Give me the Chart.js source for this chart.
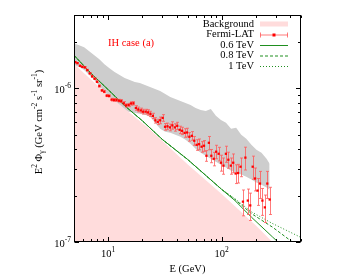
<!DOCTYPE html>
<html>
<head>
<meta charset="utf-8">
<script src="https://cdn.jsdelivr.net/npm/chart.js@4.4.0/dist/chart.umd.min.js"></script>
<style>
  html, body { margin: 0; padding: 0; background: #fff; }
  canvas { display: block; }
</style>
</head>
<body>
<canvas id="chart" width="354" height="278"></canvas>
<script>
// Fermi-LAT points (GeV, GeV cm^-2 s^-1 sr^-1)
const energy = [
  5.11, 5.36, 5.64, 5.92, 6.22, 6.54, 6.87, 7.21, 7.58, 7.96,
  8.36, 8.79, 9.23, 9.70, 10.19, 10.71, 11.25, 11.82, 12.42, 13.05,
  13.70, 14.40, 15.12, 15.89, 16.70, 17.54, 18.43, 19.36, 20.34, 21.37,
  22.45, 23.59, 24.78, 26.03, 27.35, 28.73, 30.19, 31.71, 33.32, 35.01,
  36.78, 38.64, 40.60, 42.65, 44.81, 47.08, 49.46, 51.96, 54.59, 57.36,
  60.26, 63.31, 66.52, 69.88, 73.42, 77.14, 81.04, 85.14, 89.45, 93.98,
  98.72, 103.7, 109.0, 114.5, 120.3, 126.4, 132.8, 139.5, 146.6, 154.0,
  161.8, 169.9, 178.6, 187.6, 197.1, 207.0, 217.5, 228.5, 240.1, 252.3,
  265.0
];
const flux = [
  1.480e-6, 1.459e-6, 1.401e-6, 1.380e-6, 1.368e-6, 1.314e-6, 1.251e-6, 1.196e-6, 1.154e-6, 1.103e-6,
  1.035e-6, 9.70e-7, 9.51e-7, 8.96e-7, 8.92e-7, 8.44e-7, 8.40e-7, 8.40e-7, 8.31e-7, 8.27e-7,
  7.99e-7, 7.74e-7, 7.79e-7, 7.97e-7, 7.99e-7, 7.45e-7, 7.29e-7, 7.18e-7, 7.05e-7, 7.05e-7,
  6.97e-7, 6.82e-7, 6.62e-7, 6.19e-7, 6.05e-7, 6.19e-7, 6.42e-7, 5.62e-7, 5.66e-7, 5.57e-7,
  5.74e-7, 5.57e-7, 5.70e-7, 5.37e-7, 5.29e-7, 5.13e-7, 5.16e-7, 4.84e-7, 4.91e-7, 4.56e-7,
  4.29e-7, 4.33e-7, 4.17e-7, 4.23e-7, 3.64e-7, 4.42e-7, 3.64e-7, 3.48e-7, 3.87e-7, 3.75e-7,
  3.28e-7, 3.14e-7, 3.75e-7, 3.43e-7, 3.14e-7, 3.28e-7, 2.79e-7, 2.81e-7, 3.09e-7, 1.83e-7,
  3.54e-7, 1.86e-7, 1.73e-7, 3.09e-7, 2.59e-7, 2.16e-7, 2.40e-7, 1.86e-7, 1.68e-7, 2.40e-7,
  1.89e-7
];
const fluxErr = [
  1.5e-8, 1.5e-8, 1.4e-8, 1.4e-8, 1.4e-8, 1.6e-8, 1.5e-8, 1.4e-8, 1.4e-8, 1.3e-8,
  1.6e-8, 1.5e-8, 1.4e-8, 1.3e-8, 1.3e-8, 1.7e-8, 1.7e-8, 1.7e-8, 1.7e-8, 1.7e-8,
  2.0e-8, 1.9e-8, 1.9e-8, 2.0e-8, 2.0e-8, 2.6e-8, 2.6e-8, 2.5e-8, 2.5e-8, 2.5e-8,
  2.8e-8, 2.7e-8, 2.6e-8, 2.5e-8, 2.4e-8, 3.1e-8, 3.2e-8, 2.8e-8, 2.8e-8, 2.8e-8,
  3.2e-8, 3.1e-8, 3.1e-8, 3.0e-8, 2.9e-8, 3.3e-8, 3.4e-8, 3.1e-8, 3.2e-8, 3.0e-8,
  3.4e-8, 3.5e-8, 3.3e-8, 3.4e-8, 2.9e-8, 4.4e-8, 3.6e-8, 3.5e-8, 3.9e-8, 3.8e-8,
  3.9e-8, 3.8e-8, 4.5e-8, 4.1e-8, 3.8e-8, 4.6e-8, 3.9e-8, 3.9e-8, 4.3e-8, 3.5e-8,
  6.0e-8, 3.5e-8, 3.5e-8, 5.3e-8, 4.4e-8, 4.3e-8, 4.8e-8, 3.7e-8, 3.4e-8, 4.8e-8,
  3.8e-8
];

// grey uncertainty band
const bandEnergy = [
  5.0, 5.54, 6.14, 6.81, 7.55, 8.36, 9.27, 10.27, 11.39, 12.62,
  13.98, 15.50, 17.17, 19.03, 21.09, 23.38, 25.91, 28.71, 31.83, 35.27,
  39.08, 43.31, 48.01, 53.20, 58.96, 65.35, 72.42, 80.26, 88.94, 98.58,
  109.2, 121.1, 134.2, 148.7, 164.8, 182.7, 202.5, 224.3, 248.6, 264.5
];
const bandHigh = [
  1.965e-6, 1.907e-6, 1.851e-6, 1.744e-6, 1.643e-6, 1.548e-6, 1.437e-6, 1.353e-6, 1.275e-6, 1.219e-6,
  1.166e-6, 1.132e-6, 1.099e-6, 1.082e-6, 1.050e-6, 1.020e-6, 9.90e-7, 9.61e-7, 9.19e-7, 8.78e-7,
  8.52e-7, 8.27e-7, 8.03e-7, 7.79e-7, 7.45e-7, 7.24e-7, 7.13e-7, 7.34e-7, 6.62e-7, 6.23e-7,
  5.96e-7, 5.45e-7, 5.53e-7, 4.98e-7, 4.69e-7, 4.29e-7, 3.98e-7, 3.81e-7, 3.48e-7, 3.23e-7
];
const bandLow = [
  1.416e-6, 1.374e-6, 1.314e-6, 1.219e-6, 1.132e-6, 1.035e-6, 9.61e-7, 8.65e-7, 7.79e-7, 7.34e-7,
  7.13e-7, 7.02e-7, 6.92e-7, 6.82e-7, 6.72e-7, 6.52e-7, 5.96e-7, 5.45e-7, 5.21e-7, 5.13e-7,
  4.98e-7, 4.84e-7, 4.63e-7, 4.36e-7, 4.05e-7, 3.81e-7, 3.64e-7, 3.48e-7, 3.33e-7, 3.18e-7,
  3.05e-7, 2.91e-7, 2.83e-7, 2.75e-7, 2.66e-7, 2.55e-7, 2.44e-7, 2.36e-7, 2.26e-7, 2.19e-7
];

// background and DM model curves
const bkgEnergy = [5, 10, 23, 50, 100, 200, 280, 350];
const bkgFlux = [1.44e-6, 9.0e-7, 5.45e-7, 3.2e-7, 2.05e-7, 1.28e-7, 1.0e-7, 8.5e-8];

const modelEnergy = [5, 7, 10, 14, 20, 30, 50, 100, 130, 183, 280, 420, 500];
const flux06 = [1.64e-6, 1.26e-6, 9.8e-7, 7.7e-7, 6.15e-7, 4.65e-7, 3.45e-7, 2.2e-7, 1.87e-7, 1.45e-7, 1.08e-7, 8.2e-8, 7.4e-8];
const flux08 = [1.64e-6, 1.26e-6, 9.8e-7, 7.7e-7, 6.15e-7, 4.65e-7, 3.45e-7, 2.2e-7, 1.9e-7, 1.53e-7, 1.25e-7, 1.0e-7, 9.2e-8];
const flux10 = [1.64e-6, 1.26e-6, 9.8e-7, 7.7e-7, 6.15e-7, 4.65e-7, 3.45e-7, 2.2e-7, 1.92e-7, 1.57e-7, 1.32e-7, 1.14e-7, 1.07e-7];

const xMajor = [10, 100];
const xMinor = [5, 6, 7, 8, 9, 20, 30, 40, 50, 60, 70, 80, 90, 200, 300, 400, 500];
const yMajor = [1e-7, 1e-6];
const yMinor = [2e-7, 3e-7, 4e-7, 5e-7, 6e-7, 7e-7, 8e-7, 9e-7, 2e-6, 3e-6];
const xTickLabels = [['10', '1'], ['10', '2']];
const yTickLabels = [['10', '-7'], ['10', '-6']];

const FONT = '"Liberation Serif", "Times New Roman", serif';
const RED = '#ff0000';
const GREEN = '#1f8f1f';

function pts(xs, ys) {
  return xs.map((x, i) => ({ x: x, y: ys[i] }));
}

// parts: [text, kind] kind 0 normal, 1 superscript, 2 subscript
function richWidth(ctx, parts, size) {
  let w = 0;
  parts.forEach(p => {
    ctx.font = (p[1] ? size * 0.72 : size) + 'px ' + FONT;
    w += ctx.measureText(p[0]).width;
  });
  return w;
}
function richText(ctx, parts, x, y, size) {
  parts.forEach(p => {
    const s = p[1] ? size * 0.72 : size;
    const dy = p[1] === 1 ? -size * 0.38 : (p[1] === 2 ? size * 0.28 : 0);
    ctx.font = s + 'px ' + FONT;
    ctx.fillText(p[0], x, y + dy);
    x += ctx.measureText(p[0]).width;
  });
}

const decor = {
  id: 'decor',
  beforeDatasetDraw(chart, args) {
    if (args.index !== 0) return;
    const ctx = chart.ctx, xs = chart.scales.x, ys = chart.scales.y;
    const a = chart.chartArea;
    ctx.save();
    ctx.beginPath();
    ctx.rect(a.left, a.top, a.right - a.left, a.bottom - a.top);
    ctx.clip();
    ctx.strokeStyle = 'rgba(255,90,90,0.8)';
    ctx.lineWidth = 1;
    energy.forEach((e, i) => {
      const px = Math.round(xs.getPixelForValue(e)) + 0.5;
      const top = ys.getPixelForValue(flux[i] + fluxErr[i]);
      const bot = ys.getPixelForValue(flux[i] - fluxErr[i]);
      ctx.beginPath();
      ctx.moveTo(px, top); ctx.lineTo(px, bot);
      ctx.moveTo(px - 1.5, top); ctx.lineTo(px + 1.5, top);
      ctx.moveTo(px - 1.5, bot); ctx.lineTo(px + 1.5, bot);
      ctx.stroke();
    });
    ctx.restore();
  },
  afterDraw(chart) {
    const ctx = chart.ctx, xs = chart.scales.x, ys = chart.scales.y;
    const a = chart.chartArea;
    const L = a.left + 0.5, R = a.right - 0.5, T = a.top + 0.5, B = a.bottom - 0.5;
    ctx.save();
    ctx.strokeStyle = '#000';
    ctx.lineWidth = 1;

    // inward ticks, mirrored
    ctx.beginPath();
    const xt = (v, len) => {
      const p = Math.round(xs.getPixelForValue(v)) + 0.5;
      ctx.moveTo(p, B); ctx.lineTo(p, B - len);
      ctx.moveTo(p, T); ctx.lineTo(p, T + len);
    };
    const yt = (v, len) => {
      const p = Math.round(ys.getPixelForValue(v)) + 0.5;
      ctx.moveTo(L, p); ctx.lineTo(L + len, p);
      ctx.moveTo(R, p); ctx.lineTo(R - len, p);
    };
    xMinor.forEach(v => xt(v, 2.5));
    xMajor.forEach(v => xt(v, 4.5));
    yMinor.forEach(v => yt(v, 2.5));
    yMajor.forEach(v => yt(v, 4.5));
    ctx.stroke();
    ctx.strokeRect(L, T, R - L, B - T);

    // tick labels
    ctx.fillStyle = '#000';
    ctx.textBaseline = 'middle';
    ctx.textAlign = 'left';
    const size = 10.5;
    xMajor.forEach((v, i) => {
      const parts = [[xTickLabels[i][0], 0], [xTickLabels[i][1], 1]];
      const w = richWidth(ctx, parts, size);
      richText(ctx, parts, xs.getPixelForValue(v) - w / 2, a.bottom + 12, size);
    });
    yMajor.forEach((v, i) => {
      const parts = [[yTickLabels[i][0], 0], [yTickLabels[i][1], 1]];
      const w = richWidth(ctx, parts, size);
      richText(ctx, parts, a.left - 3 - w, ys.getPixelForValue(v) + 2, size);
    });

    // axis titles
    ctx.font = size + 'px ' + FONT;
    ctx.textAlign = 'center';
    ctx.fillText('E (GeV)', (a.left + a.right) / 2, 269);
    ctx.textAlign = 'left';
    const yTitle = [['E', 0], ['2', 1], [' \u03A6', 0], ['\u03B3', 2], [' (GeV cm', 0], ['-2', 1],
                    [' s', 0], ['-1', 1], [' sr', 0], ['-1', 1], [')', 0]];
    const tw = richWidth(ctx, yTitle, size);
    ctx.translate(39, 122);
    ctx.rotate(-Math.PI / 2);
    richText(ctx, yTitle, -tw / 2, 0, size);
    ctx.setTransform(1, 0, 0, 1, 0, 0);

    // annotation
    ctx.fillStyle = RED;
    ctx.font = size + 'px ' + FONT;
    ctx.fillText('IH case (a)', 108, 43);

    // legend
    ctx.fillStyle = '#000';
    ctx.textAlign = 'right';
    const rows = ['Background', 'Fermi-LAT', '0.6 TeV', '0.8 TeV', '1 TeV'];
    const rowY = [24, 34.5, 45, 55.5, 66];
    rows.forEach((t, i) => ctx.fillText(t, 254, rowY[i]));
    const s0 = 260, s1 = 288;
    ctx.fillStyle = '#ffdcdc';
    ctx.fillRect(s0, rowY[0] - 2.5, s1 - s0, 5);
    ctx.strokeStyle = 'rgba(255,90,90,0.8)';
    ctx.beginPath();
    ctx.moveTo(s0, rowY[1] + 0.5); ctx.lineTo(s1, rowY[1] + 0.5);
    ctx.moveTo(s0 + 0.5, rowY[1] - 2); ctx.lineTo(s0 + 0.5, rowY[1] + 3);
    ctx.moveTo(s1 - 0.5, rowY[1] - 2); ctx.lineTo(s1 - 0.5, rowY[1] + 3);
    ctx.stroke();
    ctx.fillStyle = RED;
    ctx.fillRect(272.5, rowY[1] - 1, 3, 3);
    const dash = [[], [3, 2], [1, 2]];
    [2, 3, 4].forEach((r, k) => {
      ctx.strokeStyle = GREEN;
      ctx.setLineDash(dash[k]);
      ctx.beginPath();
      ctx.moveTo(s0, rowY[r] + 0.5); ctx.lineTo(s1, rowY[r] + 0.5);
      ctx.stroke();
    });
    ctx.setLineDash([]);
    ctx.restore();
  }
};

const line = (label, ys, dash, order) => ({
  label: label, data: pts(modelEnergy, ys), showLine: true, borderColor: GREEN,
  borderWidth: 1, borderDash: dash, pointRadius: 0, fill: false, tension: 0, order: order
});

new Chart(document.getElementById('chart').getContext('2d'), {
  type: 'scatter',
  data: {
    datasets: [
      { label: 'Fermi-LAT', data: pts(energy, flux), pointStyle: 'rect', pointRadius: 1.6,
        pointBackgroundColor: RED, pointBorderWidth: 0, showLine: false, order: 0 },
      line('0.6 TeV', flux06, [], 1),
      line('0.8 TeV', flux08, [3, 2], 2),
      line('1 TeV', flux10, [1, 2], 3),
      { label: 'Background', data: pts(bkgEnergy, bkgFlux), showLine: true, borderWidth: 0,
        pointRadius: 0, fill: 'start', backgroundColor: '#ffdcdc', tension: 0, order: 4 },
      { label: 'band low', data: pts(bandEnergy, bandLow), showLine: true, borderWidth: 0,
        pointRadius: 0, fill: false, tension: 0, order: 6 },
      { label: 'band high', data: pts(bandEnergy, bandHigh), showLine: true, borderWidth: 0,
        pointRadius: 0, fill: 5, backgroundColor: '#cdcdcd', tension: 0, order: 5 }
    ]
  },
  options: {
    responsive: false,
    animation: false,
    events: [],
    layout: { padding: { left: 74, right: 53, top: 15, bottom: 36 } },
    plugins: { legend: { display: false }, tooltip: { enabled: false } },
    scales: {
      x: { type: 'logarithmic', min: 5, max: 500, display: false },
      y: { type: 'logarithmic', min: 1e-7, max: 3e-6, display: false }
    }
  },
  plugins: [decor]
});
</script>
</body>
</html>
